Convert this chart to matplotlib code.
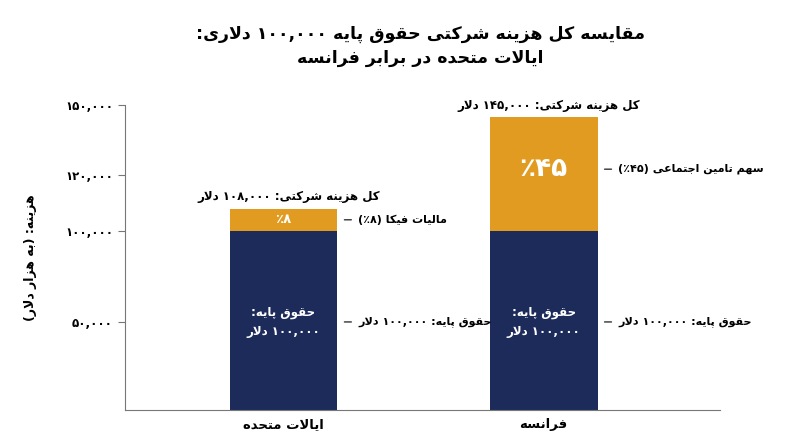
import re
import numpy as np
import matplotlib
matplotlib.use("Agg")
import matplotlib.pyplot as plt

# ---------------- data ----------------
countries = ["ایالات متحده", "فرانسه"]
base_salary = [100000, 100000]
extra_cost = [8000, 45000]
extra_pct = ["۸٪", "۴۵٪"]
total_labels = ["کل هزینه شرکتی: ۱۰۸,۰۰۰ دلار", "کل هزینه شرکتی: ۱۴۵,۰۰۰ دلار"]
extra_labels = ["مالیات فیکا (۸٪)", "سهم تامین اجتماعی (۴۵٪)"]
base_label = "حقوق پایه: ۱۰۰,۰۰۰ دلار"
base_inside = "حقوق پایه:\n۱۰۰,۰۰۰ دلار"
yticks = [50000, 100000, 120000, 150000]
ytick_labels = ["۵۰,۰۰۰", "۱۰۰,۰۰۰", "۱۲۰,۰۰۰", "۱۵۰,۰۰۰"]
title = "مقایسه کل هزینه شرکتی حقوق پایه ۱۰۰,۰۰۰ دلاری:\nایالات متحده در برابر فرانسه"
ylabel = "هزینه: (به هزار دلار)"

NAVY = "#1d2b5b"
ORANGE = "#e29b21"

# ---------------- minimal Persian shaping ----------------
FORMS = {
    '\u0627': ('\uFE8D', '\uFE8E'),
    '\u0628': ('\uFE8F', '\uFE90', '\uFE91', '\uFE92'),
    '\u067E': ('\uFB56', '\uFB57', '\uFB58', '\uFB59'),
    '\u062A': ('\uFE95', '\uFE96', '\uFE97', '\uFE98'),
    '\u062C': ('\uFE9D', '\uFE9E', '\uFE9F', '\uFEA0'),
    '\u062D': ('\uFEA1', '\uFEA2', '\uFEA3', '\uFEA4'),
    '\u062F': ('\uFEA9', '\uFEAA'),
    '\u0631': ('\uFEAD', '\uFEAE'),
    '\u0632': ('\uFEAF', '\uFEB0'),
    '\u0633': ('\uFEB1', '\uFEB2', '\uFEB3', '\uFEB4'),
    '\u0634': ('\uFEB5', '\uFEB6', '\uFEB7', '\uFEB8'),
    '\u0639': ('\uFEC9', '\uFECA', '\uFECB', '\uFECC'),
    '\u0641': ('\uFED1', '\uFED2', '\uFED3', '\uFED4'),
    '\u0642': ('\uFED5', '\uFED6', '\uFED7', '\uFED8'),
    '\u06A9': ('\uFB8E', '\uFB8F', '\uFB90', '\uFB91'),
    '\u0644': ('\uFEDD', '\uFEDE', '\uFEDF', '\uFEE0'),
    '\u0645': ('\uFEE1', '\uFEE2', '\uFEE3', '\uFEE4'),
    '\u0646': ('\uFEE5', '\uFEE6', '\uFEE7', '\uFEE8'),
    '\u0647': ('\uFEE9', '\uFEEA', '\uFEEB', '\uFEEC'),
    '\u0648': ('\uFEED', '\uFEEE'),
    '\u06CC': ('\uFBFC', '\uFBFD', '\uFBFE', '\uFBFF'),
    '\uFEFB': ('\uFEFB', '\uFEFC'),
}
MIRROR = {'(': ')', ')': '('}


def shape_line(s):
    s = s.replace('\u0644\u0627', '\uFEFB')
    out = []
    for i, c in enumerate(s):
        if c not in FORMS:
            out.append(c)
            continue
        f = FORMS[c]
        prev = s[i - 1] if i > 0 else ''
        nxt = s[i + 1] if i + 1 < len(s) else ''
        pj = prev in FORMS and len(FORMS[prev]) == 4
        nj = len(f) == 4 and nxt in FORMS
        if pj and nj:
            out.append(f[3])
        elif pj:
            out.append(f[1])
        elif nj:
            out.append(f[2])
        else:
            out.append(f[0])
    shaped = ''.join(out)
    toks = re.findall(r'[\u06F0-\u06F90-9,]+|.', shaped)
    toks = [MIRROR.get(t, t) for t in reversed(toks)]
    return ''.join(toks)


def fa(s):
    return '\n'.join(shape_line(l) for l in s.split('\n'))


# ---------------- figure ----------------
plt.rcParams['font.family'] = ['DejaVu Sans']
fig = plt.figure(figsize=(8, 4.47), dpi=100)
ax = fig.add_axes([0.156, 0.083, 0.744, 0.682])

yv = np.array([0, 50000, 100000, 120000, 150000])
yp = np.array([0, 88, 179, 235, 305])
ax.set_yscale('function', functions=(lambda v: np.interp(v, yv, yp),
                                     lambda p: np.interp(p, yp, yv)))

x = np.arange(len(countries))
w = 0.415
ax.bar(x, base_salary, width=w, color=NAVY)
ax.bar(x, extra_cost, width=w, bottom=base_salary, color=ORANGE)

ax.set_xlim(-0.61, 1.678)
ax.set_ylim(0, 150000)
ax.set_yticks(yticks)
ax.set_yticklabels(ytick_labels, fontsize=8.5, fontweight='bold')
ax.set_xticks(x)
ax.set_xticklabels([fa(c) for c in countries], fontsize=9.5, fontweight='bold')
ax.tick_params(axis='x', length=0, pad=6)
ax.tick_params(axis='y', length=5, color='#777777')
for s in ['top', 'right']:
    ax.spines[s].set_visible(False)
for s in ['left', 'bottom']:
    ax.spines[s].set_color('#777777')
ax.set_ylabel(fa(ylabel), fontsize=9, fontweight='bold', labelpad=20)

fig.text(0.525, 0.897, fa(title), ha='center', va='center', fontsize=12.5,
         fontweight='bold', linespacing=1.45)

SIDE_FS = 8
for i in range(len(countries)):
    tot = base_salary[i] + extra_cost[i]
    mid_extra = base_salary[i] + extra_cost[i] / 2
    ax.text(x[i] + 0.02, tot + 2000, fa(total_labels[i]), ha='center', va='bottom',
            fontsize=8.5, fontweight='bold')
    ax.text(x[i], mid_extra, fa(extra_pct[i]), ha='center', va='center',
            color='white', fontweight='bold', fontsize=9.5 if extra_cost[i] < 20000 else 19)
    ax.text(x[i], 50000, fa(base_inside), ha='center', va='center', color='white',
            fontweight='bold', fontsize=8.5, linespacing=1.6)
    for yy, lab in [(mid_extra, extra_labels[i]), (50000, base_label)]:
        ax.annotate(fa(lab), xy=(x[i] + w / 2, yy), xytext=(15, 0),
                    textcoords='offset points', ha='left', va='center',
                    fontsize=SIDE_FS, fontweight='bold',
                    arrowprops=dict(arrowstyle='-', color='#333333', lw=1,
                                    shrinkA=3, shrinkB=5))

fig.savefig('out.png', dpi=100)
